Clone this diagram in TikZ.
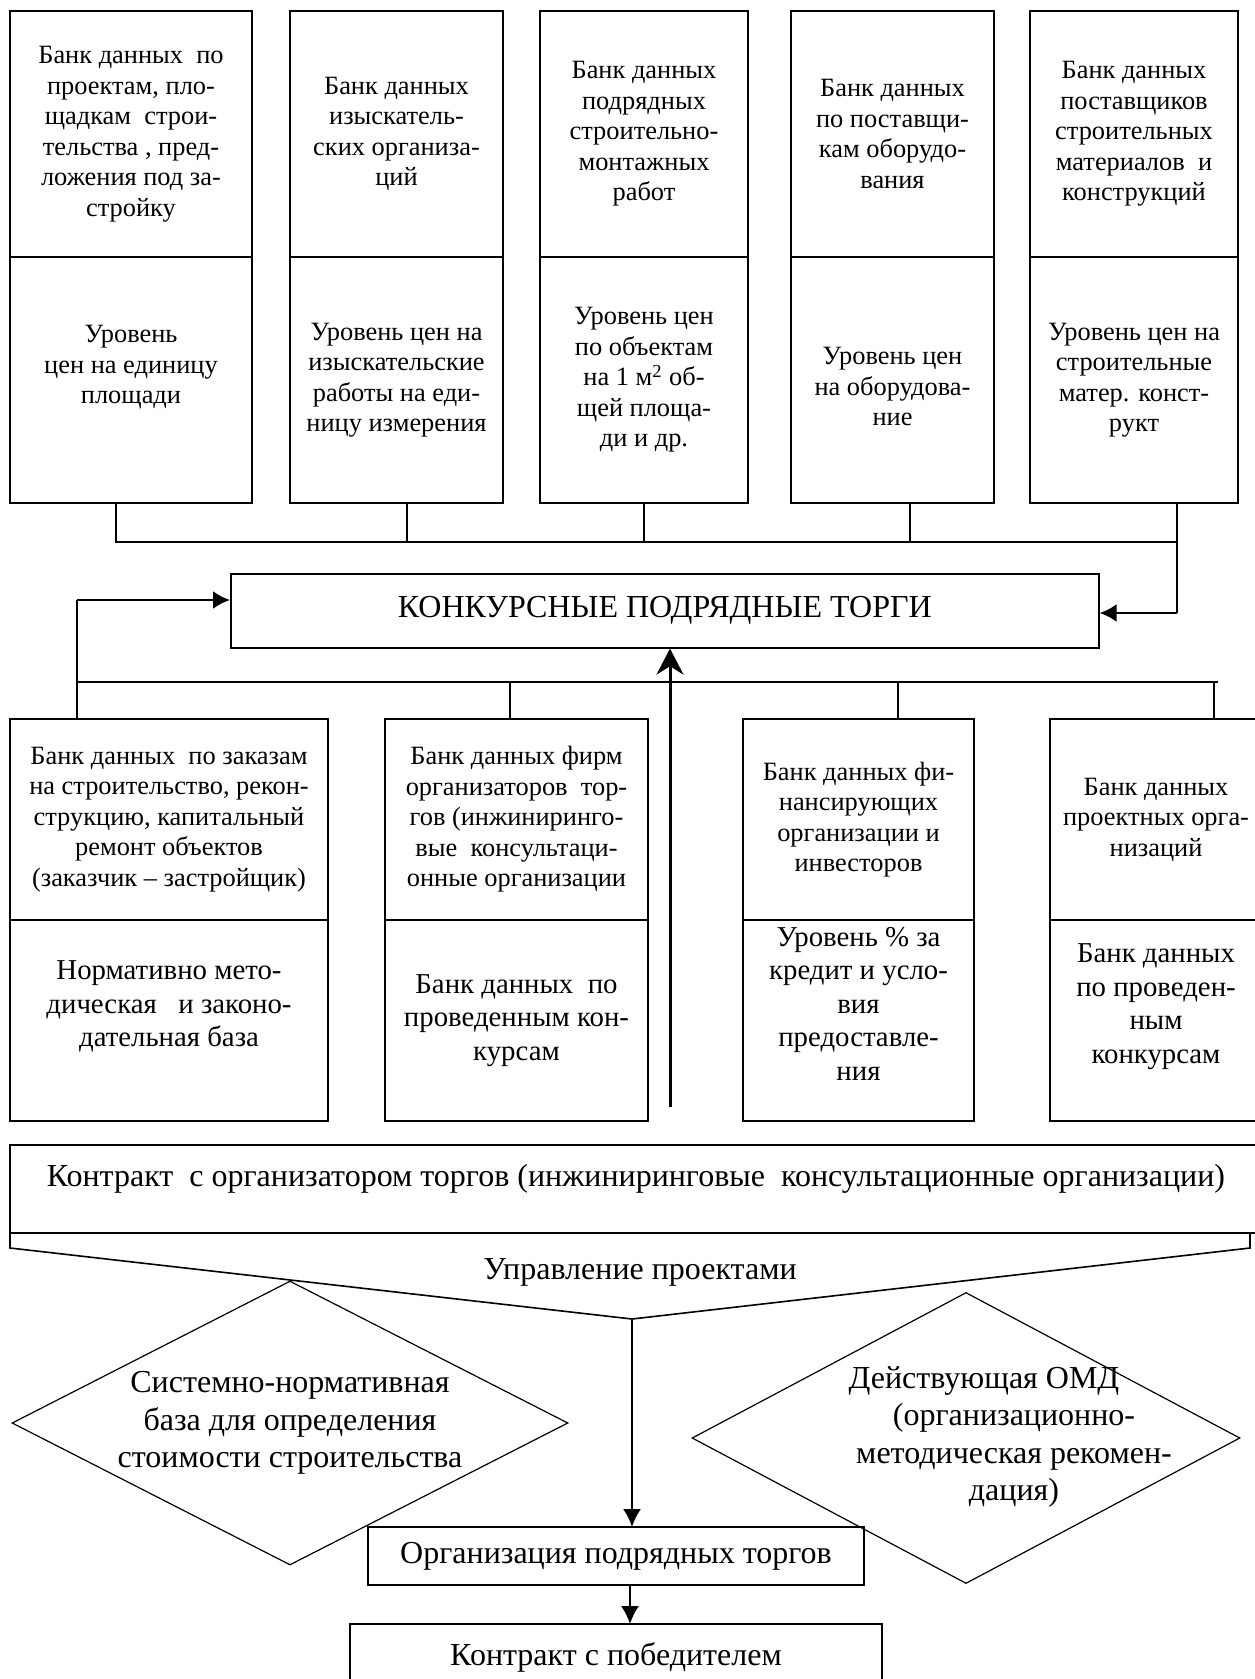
\documentclass[tikz,border=0pt]{standalone}
\usepackage{fontspec}
\setmainfont{Liberation Serif}
\usepackage{tikz}
\usetikzlibrary{shapes,positioning,calc}
\usetikzlibrary{shapes.geometric}
\usetikzlibrary{arrows.meta}
\newcommand{\cellfont}{\fontsize{13.2}{15.25}\selectfont}
\newcommand{\bigcellfont}{\fontsize{14.4}{16.8}\selectfont}
\newcommand{\boxfont}{\fontsize{16}{18.75}\selectfont}
\tikzstyle{thickarrow} = [line width=1.3pt,-{Latex[length=8.5pt,width=9pt]}]
\tikzstyle{thinarrow} = [line width=1pt,-{Latex[length=9pt,width=9pt]}]
\tikzstyle{link} = [line width=0.65pt]

\begin{document}
\begin{tikzpicture}[x=0.5pt, y=-0.5pt, cell/.style={draw, line width=1pt, outer sep=0pt, align=center, inner sep=1pt, font=\cellfont}, bigcell/.style={cell, font=\bigcellfont}, plain/.style={draw, line width=1pt, outer sep=0pt, align=center, font=\boxfont}]
		
		\path[use as bounding box, fill=white] (0,0) rectangle (1254,1679);
		
		% TOP BANKS
		
		\node [cell, anchor=north west, minimum width=121pt, minimum height=123pt] (proj) at (10,11)
		{Банк данных~ по\\ проектам, пло-\\ щадкам~ строи-\\ тельства , пред-\\ ложения под за-\\ стройку};
		\node [cell, below=0pt of proj, minimum width=121pt, minimum height=123pt] (projprice)
		{Уровень\\ цен на единицу\\ площади\\ \mbox{}};
		
		\node [cell, anchor=north west, minimum width=106.5pt, minimum height=123pt] (survey) at (290,11)
		{Банк данных\\ изыскатель-\\ ских организа-\\ ций};
		\node [cell, below=0pt of survey, minimum width=106.5pt, minimum height=123pt] (surveyprice)
		{Уровень цен на\\ изыскательские\\ работы на еди-\\ ницу измерения};
		
		\node [cell, anchor=north west, minimum width=104pt, minimum height=123pt] (contr) at (540,11)
		{Банк данных\\ подрядных\\ строительно-\\ монтажных\\ работ};
		\node [cell, below=0pt of contr, minimum width=104pt, minimum height=123pt] (contrprice)
		{Уровень цен\\ по объектам\\ на 1 м\textsuperscript{2} об-\\ щей площа-\\ ди и др.};
		
		\node [cell, anchor=north west, minimum width=101.5pt, minimum height=123pt] (equip) at (791,11)
		{Банк данных\\ по поставщи-\\ кам оборудо-\\ вания};
		\node [cell, below=0pt of equip, minimum width=101.5pt, minimum height=123pt] (equipprice)
		{\mbox{}\\ Уровень цен\\ на оборудова-\\ ние};
		
		\node [cell, anchor=north west, minimum width=104pt, minimum height=123pt] (mat) at (1030,11)
		{Банк данных\\ поставщиков\\ строительных\\ материалов~ и\\ конструкций};
		\node [cell, below=0pt of mat, minimum width=104pt, minimum height=123pt] (matprice)
		{Уровень цен на\\ строительные\\ матер. конст-\\ рукт};
		
		% TENDER
		
		\node [draw, line width=0.8pt, anchor=north west, minimum width=434pt, minimum height=37pt, font=\boxfont] (torgi) at (230,573) {КОНКУРСНЫЕ ПОДРЯДНЫЕ ТОРГИ};
		
		% LOWER BANKS
		
		\node [cell, anchor=north west, minimum width=159pt, minimum height=100.5pt] (orders) at (10,719)
		{Банк данных~ по заказам\\ на строительство, рекон-\\ струкцию, капитальный\\ ремонт объектов\\ (заказчик – застройщик)};
		\node [bigcell, below=0pt of orders, minimum width=159pt, minimum height=100.5pt] (norms)
		{Нормативно мето-\\ дическая~~ и законо-\\ дательная база\\ \mbox{}};
		
		\node [cell, anchor=north west, minimum width=131.5pt, minimum height=100.5pt] (firms) at (385,719)
		{Банк данных фирм\\ организаторов~ тор-\\ гов (инжиниринго-\\ вые~ консультаци-\\ онные организации};
		\node [bigcell, below=0pt of firms, minimum width=131.5pt, minimum height=100.5pt] (held)
		{Банк данных~ по\\ проведенным кон-\\ курсам};
		
		\node [cell, anchor=north west, minimum width=115.5pt, minimum height=100.5pt] (finance) at (743,719)
		{Банк данных фи-\\ нансирующих\\ организации и\\ инвесторов};
		\node [bigcell, below=0pt of finance, minimum width=115.5pt, minimum height=100.5pt] (credit)
		{Уровень \% за\\ кредит и усло-\\ вия\\ предоставле-\\ ния\\ \mbox{}};
		
		\node [cell, anchor=north west, minimum width=106pt, minimum height=100.5pt] (design) at (1050,719)
		{Банк данных\\ проектных орга-\\ низаций};
		\node [bigcell, below=0pt of design, minimum width=106pt, minimum height=100.5pt] (designheld)
		{Банк данных\\ по проведен-\\ ным\\ конкурсам\\ \mbox{}};
		
		% CONNECTIONS
		
		\draw[link] (projprice.south -| 116,0) -- (116,542) -- (1177,542);
		\foreach \n/\x in {surveyprice/407, contrprice/644, equipprice/910}
		\draw[link] (\n.south -| \x,0) -- (\x,542);
		\draw[link] (matprice.south -| 1177,0) -- (1177,613);
		\draw[thickarrow] (1177,613) -- (torgi.east |- 0,613);
		
		\draw[link] (orders.north -| 77,0) -- (77,600);
		\draw[thickarrow] (77,600) -- (torgi.west |- 0,600);
		\draw[link] (77,682) -- (1218,682);
		\foreach \n/\x in {firms/510, finance/898, design/1214}
		\draw[link] (\n.north -| \x,0) -- (\x,682);
		
		\draw[line width=1.5pt, -{Stealth[length=13pt, width=13.5pt]}] (670,1107) -- (torgi.south -| 670,0);
		
		% CONTRACT AND PROJECT MANAGEMENT
		
		\node [plain, anchor=north west, minimum width=626pt, minimum height=44pt, text depth=14pt] (contract) at (10,1145)
		{Контракт~ с организатором торгов (инжиниринговые~ консультационные организации)};
		
		\coordinate (tip) at (632,1319);
		\draw[line width=0.8pt] (contract.south west) -- ++(0,15) -- (tip) -- (1250,1248) -- (contract.south -| 1250,0);
		\node [font=\boxfont] (manage) at (640,1272) {Управление проектами};
		
		\node [diamond, draw, line width=0.6pt, minimum width=278pt, minimum height=142pt, inner sep=0pt] (sysbase) at (290,1423) {};
		\node [font=\boxfont, align=center] (sysbasetext) at (sysbase.center) {Системно-нормативная\\ база для определения\\ стоимости строительства};
		
		\node [diamond, draw, line width=0.6pt, minimum width=274pt, minimum height=145.5pt, inner sep=0pt] (omd) at (966,1438) {};
		\node [font=\boxfont, align=center] (omdtext) at (1014,1437) {Действующая ОМД\hspace*{30pt}\\ (организационно-\\ методическая рекомен-\\ дация)};
		
		\node [plain, anchor=north west, minimum width=248pt, minimum height=29pt] (org) at (368,1527) {Организация подрядных торгов};
		\node [plain, anchor=north west, minimum width=266pt, minimum height=33pt] (winner) at (350,1624) {Контракт с победителем};
		
		\draw[thinarrow] (tip) -- (org.north -| tip);
		\draw[thinarrow] (org.south -| 630,0) -- (winner.north -| 630,0);
		
\end{tikzpicture}
\end{document}
